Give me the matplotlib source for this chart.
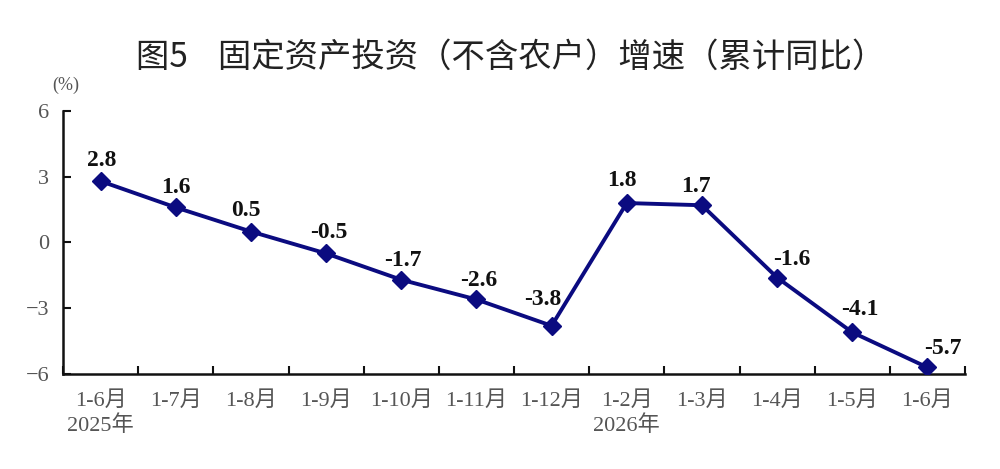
import matplotlib
matplotlib.use('Agg')
import matplotlib.pyplot as plt

# data
months = ['1-6月', '1-7月', '1-8月', '1-9月', '1-10月', '1-11月', '1-12月',
          '1-2月', '1-3月', '1-4月', '1-5月', '1-6月']
years = {0: '2025年', 7: '2026年'}
growth = [2.8, 1.6, 0.5, -0.5, -1.7, -2.6, -3.8, 1.8, 1.7, -1.6, -4.1, -5.7]
yticks = [-6, -3, 0, 3, 6]

# label offsets in pixels (dx, dy up) so the numbers sit like in the original
offsets_px = [(1, 19), (0, 19), (-5, 20), (3, 20), (2, 18), (2, 18), (-9, 25),
              (-5, 21), (-6, 17), (15, 17), (8, 21), (15, 18)]

plt.rcParams['font.family'] = ['Liberation Serif', 'Noto Sans CJK SC']

fig = plt.figure(figsize=(10, 4.69), dpi=100)
ax = fig.add_axes([0.063, 0.2026, 0.902, 0.5607])

x = list(range(len(growth)))
navy = '#0b0b80'
ax.plot(x, growth, color=navy, linewidth=2.8, marker='D', markersize=9,
        markerfacecolor=navy, markeredgecolor=navy, zorder=3)

for i, v in enumerate(growth):
    dx, dy = offsets_px[i]
    ax.annotate(f'{v:.1f}', (i, v), textcoords='offset points',
                xytext=(dx * 0.72, dy * 0.72 + 1),
                ha='center', va='center', fontsize=17, fontweight='bold',
                family='Liberation Serif', color='#111111')

ax.set_xlim(-0.5, len(growth) - 0.5)
ax.set_ylim(-6, 6)
ax.set_yticks(yticks)
ax.set_yticklabels([str(t).replace('-', '−') for t in yticks])

# category boundary ticks on x axis
ax.set_xticks([i + 0.5 for i in range(-1, len(growth))])
ax.set_xticklabels([])
ax.tick_params(axis='x', direction='in', length=6, width=1.5, color='#111111')
ax.tick_params(axis='y', direction='in', length=6, width=1.5, color='#111111',
               labelsize=16, labelcolor='#555555', pad=10)

for i, m in enumerate(months):
    lab = m + ('\n' + years[i] if i in years else '')
    ax.text(i, -6.8, lab, ha='center', va='top', fontsize=16, color='#555555',
            linespacing=1.25, transform=ax.transData)

for s in ['top', 'right']:
    ax.spines[s].set_visible(False)
for s in ['left', 'bottom']:
    ax.spines[s].set_linewidth(1.8)
    ax.spines[s].set_color('#111111')

fig.text(0.066, 0.808, '(%)', fontsize=13, color='#555555', ha='center')
fig.text(0.511, 0.878, '图5    固定资产投资（不含农户）增速（累计同比）', ha='center', va='center',
         fontsize=24, family=['Noto Sans CJK SC'], color='#222222')

fig.savefig('out.png', dpi=100, facecolor='white')
